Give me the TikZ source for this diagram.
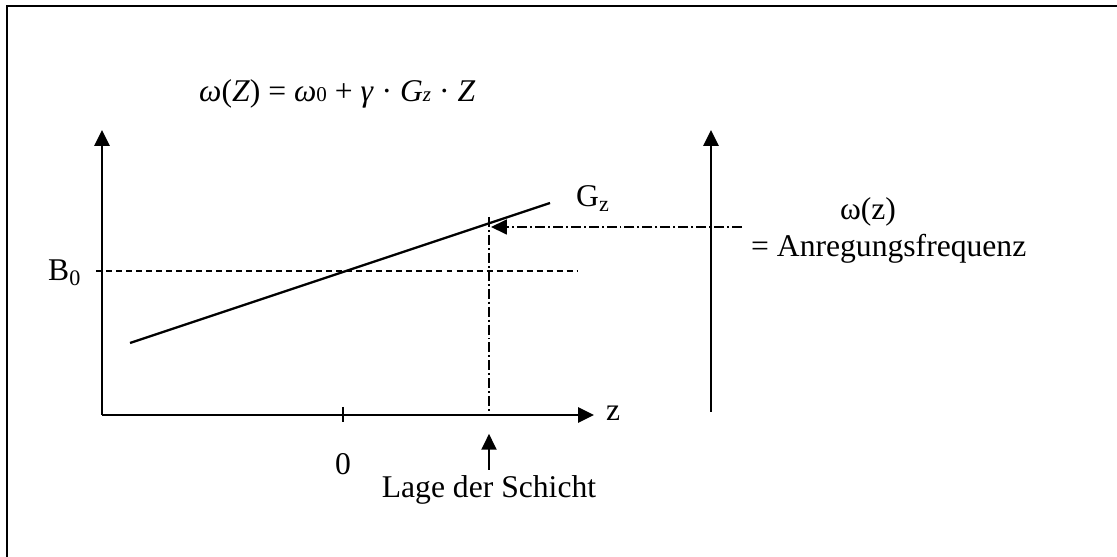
\documentclass[tikz,border=0pt]{standalone}
\usepackage{fontspec}
\setmainfont{Liberation Serif}
\usetikzlibrary{arrows.meta}
\newcommand{\kl}[1]{{\fontsize{12}{14}\selectfont #1}}

\begin{document}
\begin{tikzpicture}[x=0.02cm,y=-0.02cm,font=\fontsize{18}{21}\selectfont,
    pfeil/.style={-{Triangle[length=9pt,width=8.5pt]}},
    strich/.style={dash pattern=on 3.4pt off 2.3pt},
    strichpunkt/.style={dash pattern=on 5.7pt off 1.7pt on 1.1pt off 1.7pt}]
    \useasboundingbox (0,0) rectangle (1117,557);
    \draw[line width=1.3pt] (7,557) -- (7,6) -- (1117,6);

    \coordinate (o) at (102,415);
    \coordinate (yend) at (102,130);
    \coordinate (xend) at (594,415);
    \coordinate (g1) at (130,343);
    \coordinate (g2) at (550,203);
    \coordinate (b1) at (96,271);
    \coordinate (b2) at (577,271);
    \coordinate (s1) at (489,217);
    \coordinate (s2) at (489,415);
    \coordinate (t1) at (343,407);
    \coordinate (t2) at (343,422);
    \coordinate (w1) at (711,412);
    \coordinate (w2) at (711,130);
    \coordinate (f1) at (742,227);
    \coordinate (f2) at (491,227);

    \node[anchor=base west] (formel) at (193,102) {\textit{ω}(\textit{Z}) = \textit{ω}\kl{0} + \textit{γ} · \textit{G}\kl{\textit{z}} · \textit{Z}};
    \node[anchor=base west] (bnull) at (42,281) {B\textsubscript{0}};
    \node[anchor=base west] (gz) at (570,207) {G\textsubscript{z}};
    \node[anchor=base west] (zlabel) at (600,421) {z};
    \node[anchor=base] (null) at (343,475) {0};
    \node[anchor=base] (lage) at (489,498) {Lage der Schicht};
    \node[anchor=base] (omega) at (868,220) {ω(z)};
    \node[anchor=base west] (anregung) at (745,257) {= Anregungsfrequenz};

    \path[line width=1.3pt]
    (o) edge[pfeil] (yend)
    (o) edge[pfeil] (xend)
    (w1) edge[pfeil] (w2)
    (g1) edge (g2)
    (t1) edge[line width=0.9pt] (t2)
    (lage.north) edge[pfeil] ++(0,-36);
    \path[line width=0.8pt]
    (b1) edge[strich] (b2)
    (s1) edge[strichpunkt] (s2)
    (f1) edge[strichpunkt,pfeil] (f2);
  \end{tikzpicture}
\end{document}
